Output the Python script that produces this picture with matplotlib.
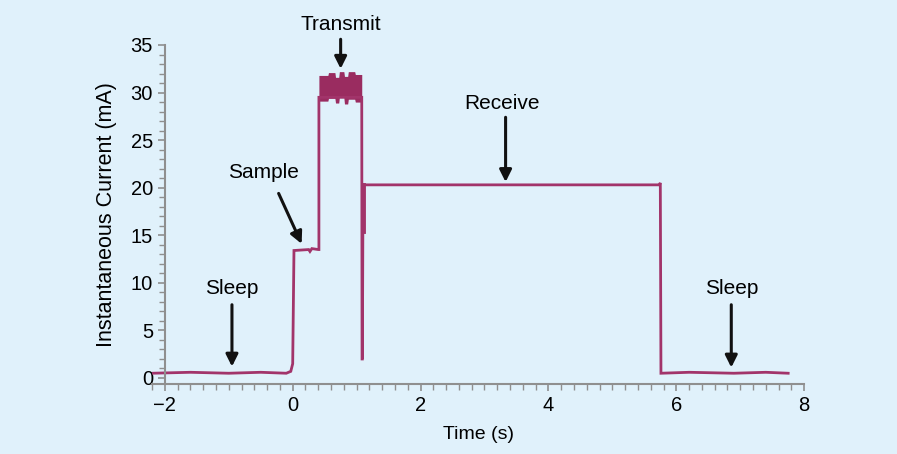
import matplotlib
matplotlib.use("Agg")
import matplotlib.pyplot as plt
import numpy as np
from matplotlib.ticker import MultipleLocator

plt.rcParams['font.family'] = ['Liberation Sans', 'DejaVu Sans']

# Current trace (time in s, current in mA)
trace_t = [-2.2, -1.6, -1.0, -0.5, -0.1, -0.03, 0.0, 0.02, 0.25, 0.27, 0.30, 0.40, 0.41,
           0.41, 1.08, 1.085, 1.09, 1.10, 3.0, 5.0, 5.73, 5.75, 5.76, 6.2, 6.9, 7.4, 7.75]
trace_i = [0.5, 0.6, 0.5, 0.6, 0.5, 0.7, 1.5, 13.4, 13.5, 13.3, 13.6, 13.5, 13.5,
           29.5, 29.5, 2.0, 2.0, 20.3, 20.3, 20.3, 20.3, 20.5, 0.5, 0.6, 0.5, 0.6, 0.5]

# Transmit burst envelope
tx_t = [0.41, 0.55, 0.56, 0.66, 0.67, 0.72, 0.73, 0.80, 0.81, 0.86, 0.87, 0.97, 0.98, 1.08]
tx_hi = [31.8, 31.8, 32.1, 32.1, 31.6, 31.6, 32.2, 32.2, 31.7, 31.7, 32.2, 32.2, 31.9, 31.9]
tx_lo = [29.1, 29.1, 29.4, 29.4, 28.9, 28.9, 29.5, 29.5, 28.8, 28.8, 29.3, 29.3, 29.0, 29.0]

# Annotations: (label, text x, text y, arrow start, arrow end)
labels = ["Transmit", "Sample", "Receive", "Sleep", "Sleep"]
label_xy = [(0.75, 37.2), (-0.45, 21.6), (3.27, 28.9), (-0.95, 9.4), (6.86, 9.4)]
arrow_from = [(0.75, 35.6), (-0.22, 19.4), (3.33, 27.4), (-0.95, 7.7), (6.86, 7.7)]
arrow_to = [(0.75, 32.5), (0.14, 14.1), (3.33, 20.6), (-0.95, 1.2), (6.86, 1.1)]

bg = '#e0f1fb'
line_c = '#a2346a'

fig = plt.figure(figsize=(8.97, 4.54), dpi=100, facecolor=bg)
ax = fig.add_axes([0.1695, 0.1542, 0.727, 0.7467], facecolor=bg)

ax.plot(trace_t, trace_i, color=line_c, lw=2.0, solid_joinstyle='miter')
ax.fill_between(tx_t, tx_lo, tx_hi, color='#9a2c60', lw=0)
ax.plot([1.10, 1.10], [15.5, 20.3], color=line_c, lw=3.5)

ax.set_xlim(-2.2, 8.0)
ax.set_ylim(-0.63, 35)
ax.spines['top'].set_visible(False)
ax.spines['right'].set_visible(False)
ax.spines['left'].set_position(('data', -2.0))
ax.spines['left'].set_bounds(-0.63, 35)
for s in ('left', 'bottom'):
    ax.spines[s].set_color('#8f8f8f')
    ax.spines[s].set_linewidth(1.5)

ax.xaxis.set_major_locator(MultipleLocator(2))
ax.xaxis.set_minor_locator(MultipleLocator(0.2))
ax.yaxis.set_major_locator(MultipleLocator(5))
ax.yaxis.set_minor_locator(MultipleLocator(1))
ax.tick_params(which='both', color='#8f8f8f', labelsize=14.5, direction='out')
ax.tick_params(which='major', length=5, width=1.2)
ax.tick_params(which='minor', length=4, width=1.0)
ax.set_xticks([-2, 0, 2, 4, 6, 8])
ax.set_xticklabels(['\u22122', '0', '2', '4', '6', '8'])

ax.set_xlabel('Time (s)', fontsize=14, labelpad=8)
ax.set_ylabel('Instantaneous Current (mA)', fontsize=15.5, labelpad=10)

for lab, txy, a0, a1 in zip(labels, label_xy, arrow_from, arrow_to):
    ax.text(txy[0], txy[1], lab, ha='center', va='center', fontsize=15, clip_on=False)
    ax.annotate('', xy=a1, xytext=a0, annotation_clip=False,
                arrowprops=dict(arrowstyle='-|>', color='#111111', lw=2.2,
                                mutation_scale=18, shrinkA=0, shrinkB=0))

fig.savefig('out.png', dpi=100, facecolor=bg)
